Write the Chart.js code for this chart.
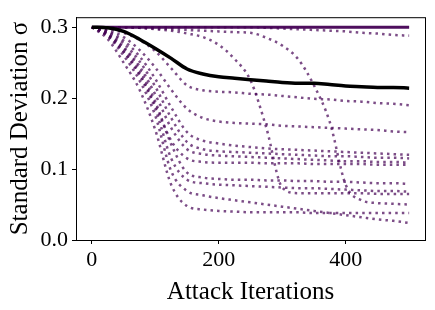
<!DOCTYPE html>
<html lang="en">
<head>
    <meta charset="UTF-8">
    <title>Standard Deviation vs Attack Iterations</title>
    <script src="https://cdn.jsdelivr.net/npm/chart.js@4.4.0/dist/chart.umd.min.js"></script>
    <style>
        html, body { margin: 0; padding: 0; background: #fff; }
        #chart { display: block; }
    </style>
</head>
<body>
<canvas id="chart" width="435" height="310"></canvas>

<script>
    // Attack iterations (x positions of every sample)
    const iters = [0, 25, 50, 75, 100, 125, 150, 175, 200, 225, 250, 275, 300, 325, 350, 375, 400, 425, 450, 475, 500];

    // Mean sigma (solid black)
    const meanSigma = [0.300, 0.299, 0.294, 0.283, 0.270, 0.256, 0.241, 0.234, 0.230, 0.228, 0.226, 0.224, 0.222, 0.221, 0.221, 0.219, 0.217, 0.216, 0.215, 0.215, 0.214];

    // Runs that never move off 0.3 (drawn as one dark band)
    const flatRuns = [0.300, 0.300, 0.300, 0.300, 0.300, 0.300, 0.300, 0.300, 0.300, 0.300, 0.300, 0.300, 0.300, 0.300, 0.300, 0.300, 0.300, 0.300, 0.300, 0.300, 0.300];

    // Individual runs (dotted)
    const runA  = [0.300, 0.300, 0.300, 0.300, 0.300, 0.300, 0.300, 0.300, 0.300, 0.300, 0.300, 0.299, 0.298, 0.297, 0.296, 0.295, 0.294, 0.292, 0.291, 0.289, 0.288];
    const runB  = [0.300, 0.300, 0.300, 0.299, 0.298, 0.297, 0.296, 0.295, 0.294, 0.293, 0.292, 0.285, 0.274, 0.255, 0.218, 0.166, 0.078, 0.056, 0.052, 0.051, 0.050];
    const runC  = [0.300, 0.300, 0.300, 0.299, 0.297, 0.295, 0.291, 0.286, 0.275, 0.255, 0.225, 0.158, 0.074, 0.066, 0.066, 0.066, 0.066, 0.066, 0.065, 0.065, 0.065];
    const runD  = [0.300, 0.298, 0.292, 0.282, 0.266, 0.242, 0.218, 0.211, 0.209, 0.208, 0.206, 0.205, 0.203, 0.201, 0.199, 0.198, 0.196, 0.195, 0.193, 0.192, 0.190];
    const runE  = [0.300, 0.296, 0.286, 0.268, 0.243, 0.212, 0.185, 0.172, 0.167, 0.165, 0.164, 0.163, 0.161, 0.160, 0.159, 0.158, 0.157, 0.156, 0.155, 0.153, 0.152];
    const runG1 = [0.300, 0.294, 0.281, 0.259, 0.227, 0.187, 0.152, 0.140, 0.136, 0.133, 0.131, 0.129, 0.128, 0.127, 0.126, 0.125, 0.124, 0.123, 0.122, 0.121, 0.120];
    const runG2 = [0.300, 0.293, 0.277, 0.252, 0.216, 0.172, 0.138, 0.128, 0.125, 0.124, 0.123, 0.122, 0.121, 0.120, 0.119, 0.118, 0.118, 0.117, 0.116, 0.116, 0.115];
    const runG3 = [0.300, 0.291, 0.272, 0.245, 0.205, 0.158, 0.128, 0.121, 0.119, 0.118, 0.117, 0.116, 0.115, 0.114, 0.113, 0.112, 0.111, 0.111, 0.110, 0.110, 0.109];
    const runG4 = [0.300, 0.289, 0.266, 0.235, 0.190, 0.140, 0.115, 0.110, 0.109, 0.109, 0.109, 0.108, 0.108, 0.108, 0.107, 0.107, 0.107, 0.107, 0.106, 0.106, 0.106];
    const runH1 = [0.300, 0.290, 0.270, 0.240, 0.195, 0.135, 0.095, 0.088, 0.086, 0.085, 0.085, 0.084, 0.084, 0.083, 0.083, 0.082, 0.082, 0.081, 0.080, 0.080, 0.079];
    const runH2 = [0.300, 0.288, 0.265, 0.232, 0.185, 0.115, 0.085, 0.080, 0.078, 0.077, 0.076, 0.075, 0.074, 0.073, 0.073, 0.072, 0.071, 0.070, 0.069, 0.069, 0.068];
    const runI1 = [0.300, 0.283, 0.250, 0.212, 0.155, 0.078, 0.048, 0.043, 0.041, 0.040, 0.039, 0.039, 0.039, 0.039, 0.038, 0.038, 0.038, 0.038, 0.038, 0.038, 0.038];
    const runI2 = [0.300, 0.287, 0.260, 0.225, 0.175, 0.097, 0.069, 0.063, 0.059, 0.056, 0.053, 0.050, 0.047, 0.044, 0.041, 0.038, 0.035, 0.032, 0.029, 0.027, 0.024];

    const dottedRuns = [runA, runB, runC, runD, runE, runG1, runG2, runG3, runG4, runH1, runH2, runI1, runI2];

    // Tick labels
    const xTicks = [0, 200, 400];
    const yTicks = [0.0, 0.1, 0.2, 0.3];

    const purple = 'rgba(68, 1, 84, 0.7)';
    const family = '"Liberation Serif", "DejaVu Serif", serif';
    const tickFont = { family: family, size: 22 };
    const titleFont = { family: family, size: 25 };

    function toPoints(values) {
        return iters.map((x, i) => ({ x: x, y: values[i] }));
    }

    const datasets = [];
    datasets.push({
        data: toPoints(meanSigma),
        borderColor: '#000',
        borderWidth: 3.5,
        order: 0
    });
    dottedRuns.forEach(run => {
        datasets.push({
            data: toPoints(run),
            borderColor: purple,
            borderWidth: 2.5,
            borderDash: [2.5, 4.1],
            borderCapStyle: 'butt',
            order: 1
        });
    });
    datasets.push({
        data: toPoints(flatRuns),
        borderColor: 'rgba(68, 1, 84, 0.95)',
        borderWidth: 3,
        order: 1
    });

    // full box around the plot like matplotlib spines
    const boxPlugin = {
        id: 'box',
        afterDraw(chart) {
            const a = chart.chartArea;
            const ctx = chart.ctx;
            ctx.save();
            ctx.strokeStyle = '#000';
            ctx.lineWidth = 1;
            ctx.strokeRect(a.left + 0.5, a.top + 0.5, a.right - a.left, a.bottom - a.top);
            ctx.restore();
        }
    };

    const ctx = document.getElementById('chart').getContext('2d');
    new Chart(ctx, {
        type: 'line',
        data: { datasets: datasets },
        plugins: [boxPlugin],
        options: {
            responsive: false,
            animation: false,
            devicePixelRatio: 1,
            layout: { padding: { top: 9, right: 10, left: 0, bottom: 0 } },
            elements: {
                point: { radius: 0 },
                line: { cubicInterpolationMode: 'monotone' }
            },
            plugins: {
                legend: { display: false },
                tooltip: { enabled: false }
            },
            scales: {
                x: {
                    type: 'linear',
                    min: -25,
                    max: 525,
                    afterBuildTicks: scale => { scale.ticks = xTicks.map(v => ({ value: v })); },
                    afterFit: scale => { scale.height = 70; },
                    grid: { drawOnChartArea: false, tickLength: 4, color: '#000' },
                    border: { color: '#000', width: 1 },
                    ticks: { color: '#000', font: tickFont, padding: 3, maxRotation: 0 },
                    title: { display: true, text: 'Attack Iterations', color: '#000', font: titleFont, padding: { top: 0, bottom: 3 } }
                },
                y: {
                    min: 0,
                    max: 0.314,
                    afterBuildTicks: scale => { scale.ticks = yTicks.map(v => ({ value: v })); },
                    afterFit: scale => { scale.width = 76; },
                    grid: { drawOnChartArea: false, tickLength: 4, color: '#000' },
                    border: { color: '#000', width: 1 },
                    ticks: { color: '#000', font: tickFont, padding: 4, callback: v => v.toFixed(1) },
                    title: { display: true, text: 'Standard Deviation σ', color: '#000', font: titleFont, padding: { top: 5, bottom: 0 } }
                }
            }
        }
    });
</script>
</body>
</html>
